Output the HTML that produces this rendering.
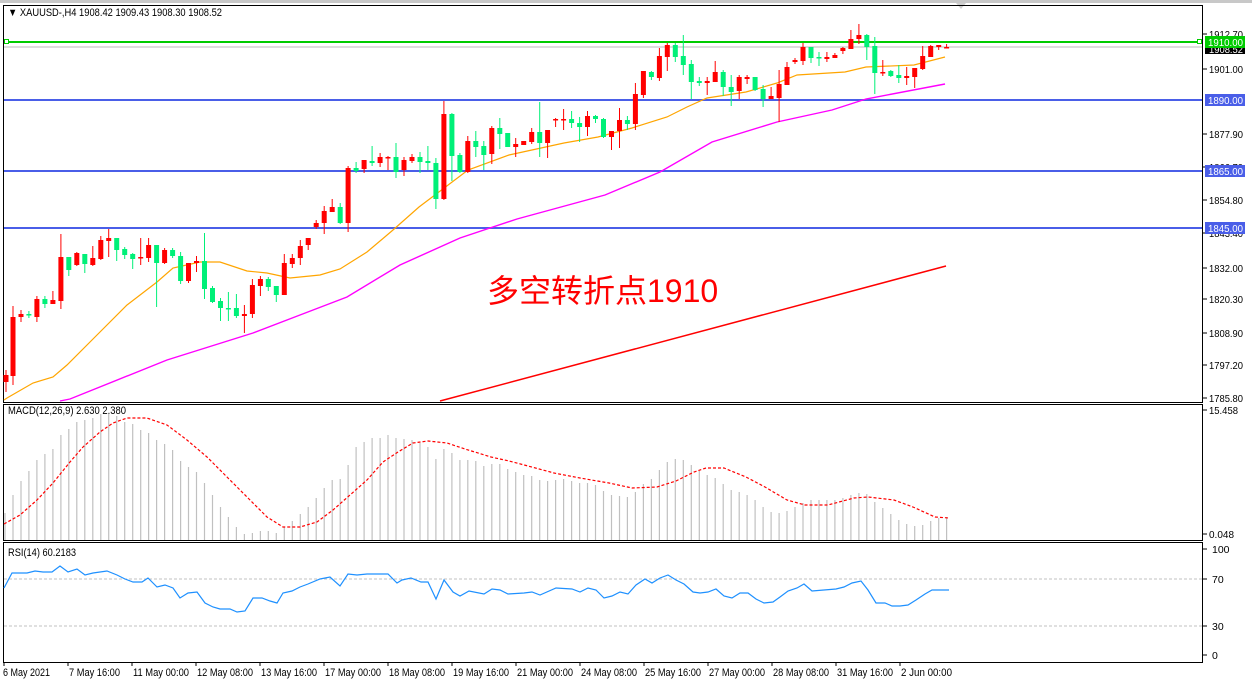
<!DOCTYPE html>
<html><head><meta charset="utf-8"><style>
html,body{margin:0;padding:0;background:#fff;width:1252px;height:685px;overflow:hidden}
svg{display:block;font-family:"Liberation Sans","DejaVu Sans",sans-serif}
</style></head><body>
<svg id="s" width="1252" height="685" viewBox="0 0 1252 685" xmlns="http://www.w3.org/2000/svg">
<rect x="0" y="0" width="1252" height="685" fill="#fff"/>
<rect x="0" y="0" width="1252" height="3" fill="#c8c8c8"/>
<polygon points="956,3 966,3 961,9" fill="#d0d0d0"/>
<g id="g"></g>
</svg>
<script>
var g=document.getElementById('g');var h='';
function L(x1,y1,x2,y2,c,w,extra){h+='<line x1="'+x1+'" y1="'+y1+'" x2="'+x2+'" y2="'+y2+'" stroke="'+c+'" stroke-width="'+(w||1)+'" '+(extra||'')+'/>';}
function T(x,y,t,s,c,a,tl){h+='<text x="'+x+'" y="'+y+'" font-size="'+(s||11)+'" fill="'+(c||'#000')+'"'+(a?' text-anchor="'+a+'"':'')+(tl?' textLength="'+tl+'" lengthAdjust="spacingAndGlyphs"':'')+'>'+t+'</text>';}
function P(pts,c,w,extra){h+='<polyline fill="none" stroke="'+c+'" stroke-width="'+(w||1)+'" points="'+pts.map(function(p){return p[0]+','+p[1]}).join(' ')+'" '+(extra||'')+'/>';}
h+='<rect x="3.5" y="5.5" width="1199" height="397" fill="none" stroke="#000"/>';
h+='<rect x="3.5" y="404.5" width="1199" height="136" fill="none" stroke="#000"/>';
h+='<rect x="3.5" y="542.5" width="1199" height="120" fill="none" stroke="#000"/>';
L(4,47,1202,47,'#bbb',1);
L(4,42,1202,42,'#00cc00',2);
h+='<rect x="4.5" y="39.5" width="4" height="4" fill="#fff" stroke="#00cc00"/><rect x="1197.5" y="39.5" width="4" height="4" fill="#fff" stroke="#00cc00"/>';
[100,171,228].forEach(function(y){L(4,y,1202,y,'#4a5ee8',2);});
var red=[[440,401],[946,266]];
P(red,'#ff0000',1.5);
var mag=[[60,401],[70,399],[167,360],[253,333],[300,315],[347,297],[400,265],[460,238],[517,219],[605,195],[660,172],[712,142],[777,122],[832,110],[866,99],[945,84]];
P(mag,'#ff00ff',1.4);
var org=[[4,400],[7,398],[33,383],[53,377],[67,365],[97,335],[127,305],[157,282],[173,268],[200,262],[220,262],[247,271],[267,273],[290,278],[320,275],[340,269],[367,252],[393,230],[419,207],[468,170],[509,155],[564,143],[598,137],[632,128],[667,117],[687,107],[707,98],[746,92],[777,83],[797,75],[845,72],[866,67],[914,65],[945,57]];
P(org,'#ffa500',1.2);
var C=[
'r375,382,370,392','r317,376,306,385','r314,317,310,322','g314,315,311,318','r299,317,296,322','g299,304,296,308','r300,304,291,304','r257,301,234,309','g257,270,257,276','r253,265,252,266',
'g254,264,254,273','r258,265,246,266','r240,259,236,260','r238,241,229,257','g238,250,238,261','g249,255,247,259','g254,259,253,269','r257,258,238,265','r245,258,238,262','g245,263,245,307',
'r250,263,248,264','g250,256,248,258','g256,281,252,284','r263,281,263,283','r261,263,256,272','g261,289,233,299','g288,302,286,303','g301,308,298,321','g308,309,292,321','g308,316,294,318',
'r314,316,305,333','r285,314,279,318','r279,286,276,296','g279,287,277,291','g286,295,286,302','r263,295,254,295','r258,264,254,268','r246,258,240,265','r238,245,238,250','r223,227,220,229',
'r211,223,206,234','r207,212,199,212','g207,223,203,224','r168,223,166,232','g168,171,162,173','r160,169,160,173','g161,163,146,166','r157,163,153,167','r157,158,156,170','g157,172,143,178',
'r160,170,157,176','r157,161,154,163','g157,162,152,173','g161,163,146,170','g163,199,158,209','r114,199,101,200','g114,156,113,181','g155,172,153,173','r141,172,136,173','g141,147,131,157',
'g146,155,141,170','r128,154,126,164','g128,134,118,149','g133,147,133,147','r144,147,138,157','r141,145,141,145','r132,142,128,144','g132,143,102,157','r130,143,130,158','r119,120,118,127',
'r119,120,109,130','g119,123,111,128','g123,127,117,142','r116,127,111,136','g116,119,115,123','g119,137,118,138','r131,137,131,150','r120,131,108,148','g120,124,116,130','r94,124,83,130',
'r71,95,71,98','g72,77,71,80','r56,78,48,81','r45,57,43,71','g45,57,43,62','g56,65,35,75','g64,82,60,99','g81,83,77,86','r81,83,77,95','r72,82,61,82',
'g72,87,70,96','g87,92,75,106','r77,91,75,99','r77,79,75,84','g77,90,77,91','g89,99,85,107','r96,99,87,99','r84,98,70,122','r67,85,62,85','r60,62,58,64',
'r47,61,43,65','g47,58,47,63','g57,58,52,66','r57,59,52,62','r55,58,53,58','r48,51,47,54','r39,49,30,49','r35,39,24,44','g35,47,34,60','g46,73,37,94',
'r72,73,60,76','g71,76,70,77','g75,78,65,83','r76,78,67,85','r68,77,68,88','r56,69,46,70','r46,57,45,57','r45,47,45,50','r47,48,44,48'];
C.forEach(function(s,i){var c=s[0]=='r'?'#ff0000':'#00f078';var v=s.slice(1).split(',').map(Number);var x=5+7.98*i;
 if(x<5.5)x=6;
 L(x.toFixed(1),v[2],x.toFixed(1),v[3],c,1);
 var bh=Math.max(v[1]-v[0],1.5);
 h+='<rect x="'+(x-2.5).toFixed(1)+'" y="'+v[0]+'" width="5" height="'+bh+'" fill="'+c+'"/>';});
var M=[513,495,481,471,460,454,449,435,429,422,420,418,414,414,416,422,424,430,433,440,444,450,461,467,472,483,495,507,517,527,534,533,531,531,533,527,521,514,507,498,488,480,479,465,447,442,438,
438,435,438,439,440,443,447,459,449,453,460,460,461,466,464,464,469,472,475,476,480,481,480,479,481,483,483,485,491,495,496,497,492,484,479,470,462,459,460,465,471,475,478,484,490,492,495,500,507,512,513,511,507,503,500,500,500,500,498,495,493,494,502,508,514,520,524,526,525,521,518,517];
M.forEach(function(y,i){var x=(5+7.98*i).toFixed(1);if(i==0)x=5;L(x,y,x,540,'#c0c0c0',1.2);});
var sig=[[4,524],[20,515],[37,500],[53,483],[70,462],[83,447],[100,432],[113,423],[127,418],[147,418],[167,425],[187,440],[207,457],[227,477],[247,497],[267,517],[283,527],[300,527],[317,522],[333,510],[350,495],[367,480],[383,462],[398,452],[413,443],[428,441],[447,443],[465,449],[491,457],[509,461],[528,466],[554,473],[580,478],[609,483],[632,488],[657,487],[676,481],[694,472],[706,468],[724,468],[746,477],[765,487],[787,500],[805,505],[828,505],[854,498],[868,497],[894,500],[913,507],[935,517],[949,518]];
P(sig,'#ff0000',1.2,'stroke-dasharray="3,2"');
L(4,579,1202,579,'#c0c0c0',1,'stroke-dasharray="3,2"');
L(4,626,1202,626,'#c0c0c0',1,'stroke-dasharray="3,2"');
var R=[[4,588],[12,573],[27,573],[35,571],[43,572],[52,572],[60,566],[68,572],[77,569],[85,575],[93,573],[107,571],[117,575],[125,579],[133,582],[142,582],[148,578],[157,587],[165,585],[173,588],[180,598],[188,593],[197,592],[205,603],[213,607],[220,609],[230,609],[237,612],[245,611],[253,598],[262,598],[270,601],[277,603],[283,593],[292,591],[300,587],[308,584],[320,579],[330,577],[340,586],[348,574],[357,575],[367,574],[377,574],[388,574],[397,583],[402,580],[411,578],[421,582],[428,582],[436,599],[444,580],[453,592],[460,596],[469,591],[484,594],[492,589],[500,590],[508,594],[524,593],[532,592],[540,595],[556,588],[572,589],[580,592],[588,588],[596,590],[604,598],[612,596],[620,592],[628,594],[636,585],[645,579],[652,583],[660,578],[668,575],[676,580],[684,584],[693,592],[700,593],[708,592],[716,589],[724,596],[732,598],[740,593],[748,593],[756,599],[764,603],[773,602],[780,597],[788,591],[797,588],[804,584],[812,591],[836,589],[844,587],[852,583],[861,581],[868,590],[876,603],[885,603],[892,606],[900,606],[908,605],[916,600],[925,594],[932,590],[949,590]];
P(R,'#1e90ff',1.2);
var ax=[[34,'1912.70'],[69,'1901.00'],[134,'1877.90'],[167,'1866.70'],[200,'1854.80'],[233,'1843.40'],[268,'1832.00'],[299,'1820.30'],[333,'1808.90'],[365,'1797.20'],[398,'1785.80']];
ax.forEach(function(a){L(1203,a[0],1207,a[0],'#000');T(1209,a[0]+4,a[1],10.5,null,null,34);});
h+='<rect x="1205" y="44" width="40" height="10" fill="#000"/>';T(1209,53,'1908.52',10.5,'#fff',null,34);
h+='<rect x="1205" y="36" width="40" height="12" fill="#00cc00"/>';T(1208,46,'1910.00',10.5,'#fff',null,35);
[[100,'1890.00'],[171,'1865.00'],[228,'1845.00']].forEach(function(a){h+='<rect x="1205" y="'+(a[0]-6)+'" width="40" height="12" fill="#4a5ee8"/>';T(1208,a[0]+4,a[1],10.5,'#fff',null,35);});
T(1209,414,'15.458',10.5,null,null,29);L(1203,410,1207,410,'#000');
T(1209,538,'0.048',10.5,null,null,25);L(1203,534,1207,534,'#000');
[[549,'100'],[579,'70'],[626,'30'],[655,'0']].forEach(function(a){L(1203,a[0],1207,a[0],'#000');T(1212,a[0]+4,a[1],10.5);});
var d=['6 May 2021','7 May 16:00','11 May 00:00','12 May 08:00','13 May 16:00','17 May 00:00','18 May 08:00','19 May 16:00','21 May 00:00','24 May 08:00','25 May 16:00','27 May 00:00','28 May 08:00','31 May 16:00','2 Jun 00:00'];
d.forEach(function(t,i){var x=4+64*i;L(x,662,x,666,'#000');T(x+(i==0?-1:1),676,t,11,null,null,Math.round(t.length*4.65));});
T(8,16,'▼ XAUUSD-,H4  1908.42 1909.43 1908.30 1908.52',11,null,null,214);
T(8,414,'MACD(12,26,9) 2.630 2.380',11,null,null,118);
T(8,556,'RSI(14) 60.2183',11,null,null,68);
h+='<text x="487" y="302" font-size="32" fill="#ff0000" font-family="\'Liberation Sans\',\'Noto Sans CJK SC\',sans-serif">多空转折点1910</text>';
g.innerHTML=h;
</script>
</body></html>
